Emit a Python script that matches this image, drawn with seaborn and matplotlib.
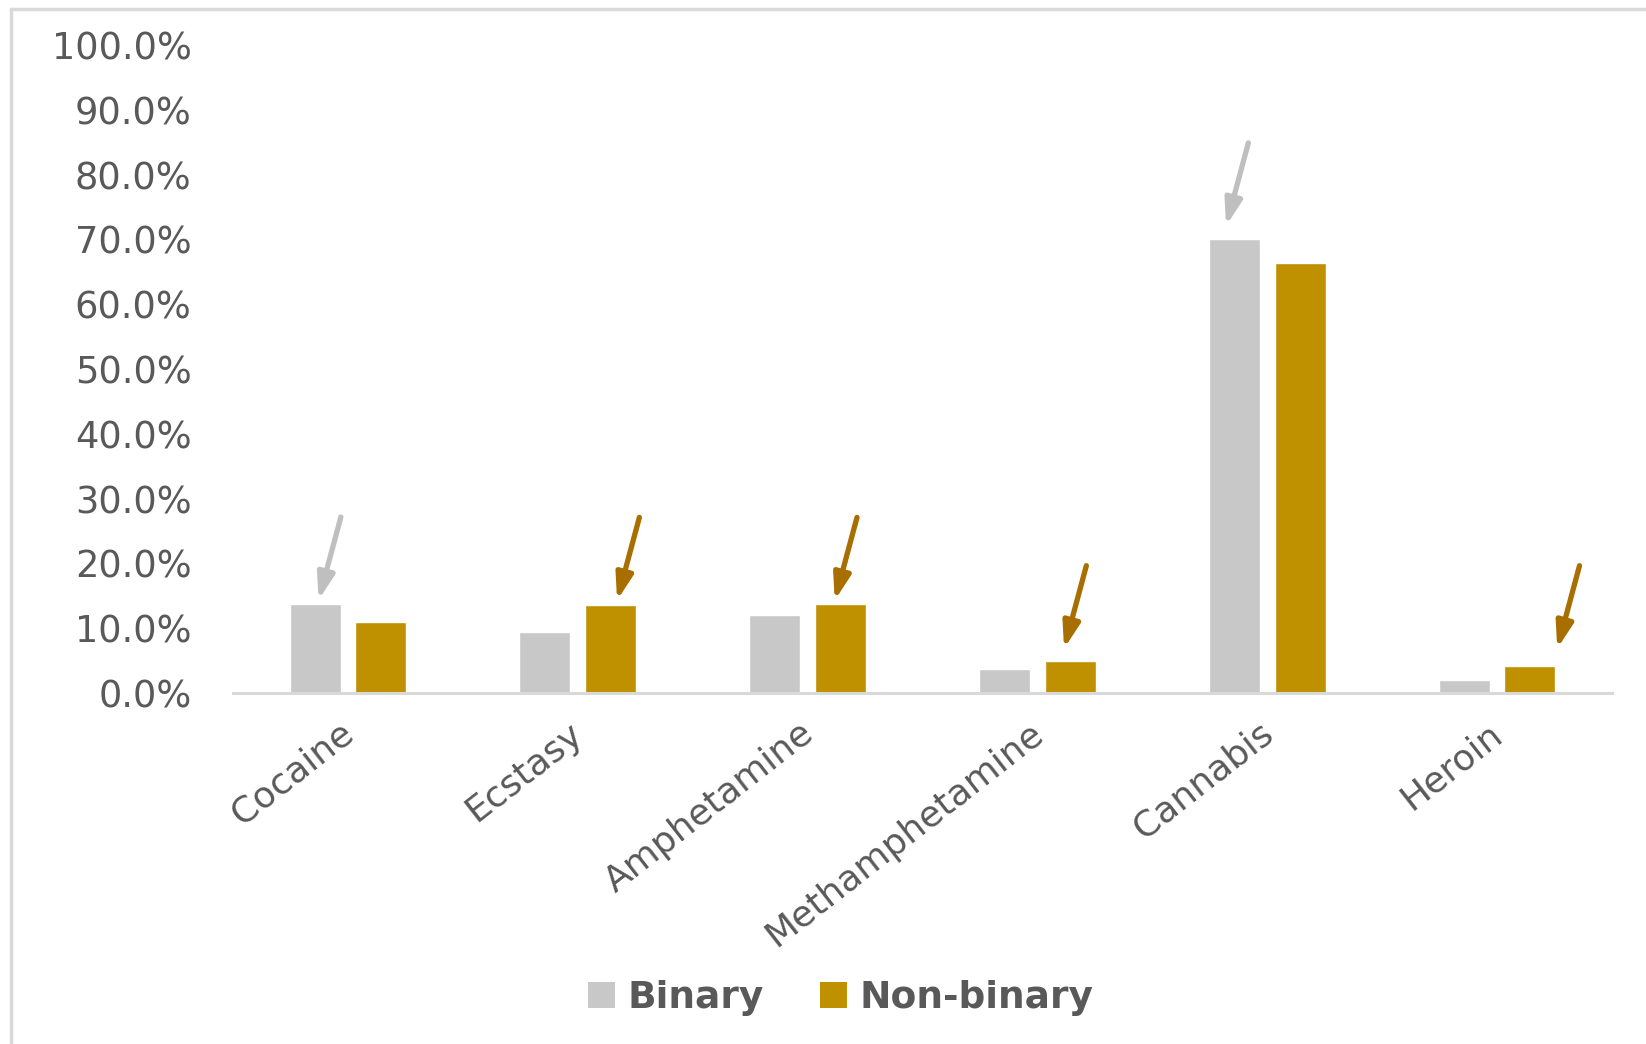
import matplotlib
matplotlib.use("Agg")
import matplotlib.pyplot as plt
from matplotlib.lines import Line2D
from matplotlib.patches import Patch
from matplotlib.ticker import FuncFormatter
from matplotlib.transforms import ScaledTranslation
import seaborn as sns
import pandas as pd

# ---- data ----
categories = ["Cocaine", "Ecstasy", "Amphetamine", "Methamphetamine", "Cannabis", "Heroin"]
binary = [13.8, 9.4, 12.1, 3.7, 70.0, 2.0]
non_binary = [11.0, 13.6, 13.8, 4.9, 66.3, 4.2]
series_names = ["Binary", "Non-binary"]
y_ticks = [0, 10, 20, 30, 40, 50, 60, 70, 80, 90, 100]

# annotation arrows: (category index, series index, tip height %)
arrow_targets = [(0, 0, 14.35), (1, 1, 14.3), (2, 1, 14.3), (3, 1, 6.85), (4, 0, 72.1), (5, 1, 6.85)]
arrow_xoff = [0.015, 0.028, -0.025, -0.027, -0.036, 0.119]

# ---- styling ----
sns.set_theme(style="white")
plt.rcParams["font.family"] = ["DejaVu Sans"]
text_color = "#595959"
colors = {"Binary": "#C8C8C8", "Non-binary": "#BF9000"}
arrow_colors = ["#BFBFBF", "#A86E00"]

df = pd.DataFrame({
    "Drug": categories * 2,
    "Group": [series_names[0]] * len(categories) + [series_names[1]] * len(categories),
    "Value": binary + non_binary,
})

fig = plt.figure(figsize=(16.46, 10.44), dpi=100)
ax = fig.add_axes([0.1416, 0.3362, 0.8377, 0.6207])

sns.barplot(data=df, x="Drug", y="Value", hue="Group", order=categories,
            hue_order=series_names, palette=colors, width=0.572, gap=0.224,
            saturation=1, ax=ax, legend=False, errorbar=None)

ax.set_xlim(-0.5, len(categories) - 0.5)
ax.set_ylim(0, 100)
ax.set_yticks(y_ticks)
ax.yaxis.set_major_formatter(FuncFormatter(lambda v, p: f"{v:.1f}%"))
ax.set_xlabel("")
ax.set_ylabel("")
for s in ["top", "right", "left"]:
    ax.spines[s].set_visible(False)
ax.spines["bottom"].set_color("#D9D9D9")
ax.spines["bottom"].set_linewidth(2.2)
ax.tick_params(axis="y", length=0, pad=30, labelsize=26.5, labelcolor=text_color)
ax.tick_params(axis="x", length=0, pad=18, labelsize=26, labelcolor=text_color)
shift = ScaledTranslation(-9 / 100, 2 / 100, fig.dpi_scale_trans)
for lbl in ax.get_xticklabels():
    lbl.set_rotation(38)
    lbl.set_ha("right")
    lbl.set_va("top")
    lbl.set_rotation_mode("anchor")
    lbl.set_transform(lbl.get_transform() + shift)

# arrows pointing at bars
n = len(categories)
patches = ax.patches[: 2 * n]
for (ci, si, tip), dx in zip(arrow_targets, arrow_xoff):
    bar = patches[si * n + ci]
    cx = bar.get_x() + bar.get_width() / 2 + dx
    ax.annotate("", xy=(cx, tip), xytext=(cx + 0.097, tip + 12.8),
                arrowprops=dict(arrowstyle="-|>,head_length=0.55,head_width=0.18",
                                color=arrow_colors[si], lw=3.8, mutation_scale=28,
                                shrinkA=0, shrinkB=0))

# legend
handles = [Patch(facecolor=colors[s], edgecolor="none", label=s) for s in series_names]
leg = fig.legend(handles=handles, loc="center", bbox_to_anchor=(0.511, 0.044), ncol=2,
                 frameon=False, handlelength=0.7, handleheight=0.7, handletextpad=0.35,
                 columnspacing=1.5, prop={"weight": "bold", "size": 27})
for t in leg.get_texts():
    t.set_color(text_color)

# chart area border (left and top)
fig.add_artist(Line2D([11 / 1646, 11 / 1646], [0, 1 - 9 / 1044], color="#D9D9D9", lw=2.5,
                      transform=fig.transFigure))
fig.add_artist(Line2D([11 / 1646, 1], [1 - 9 / 1044, 1 - 9 / 1044], color="#D9D9D9", lw=2.5,
                      transform=fig.transFigure))

fig.savefig("out.png", dpi=100)
